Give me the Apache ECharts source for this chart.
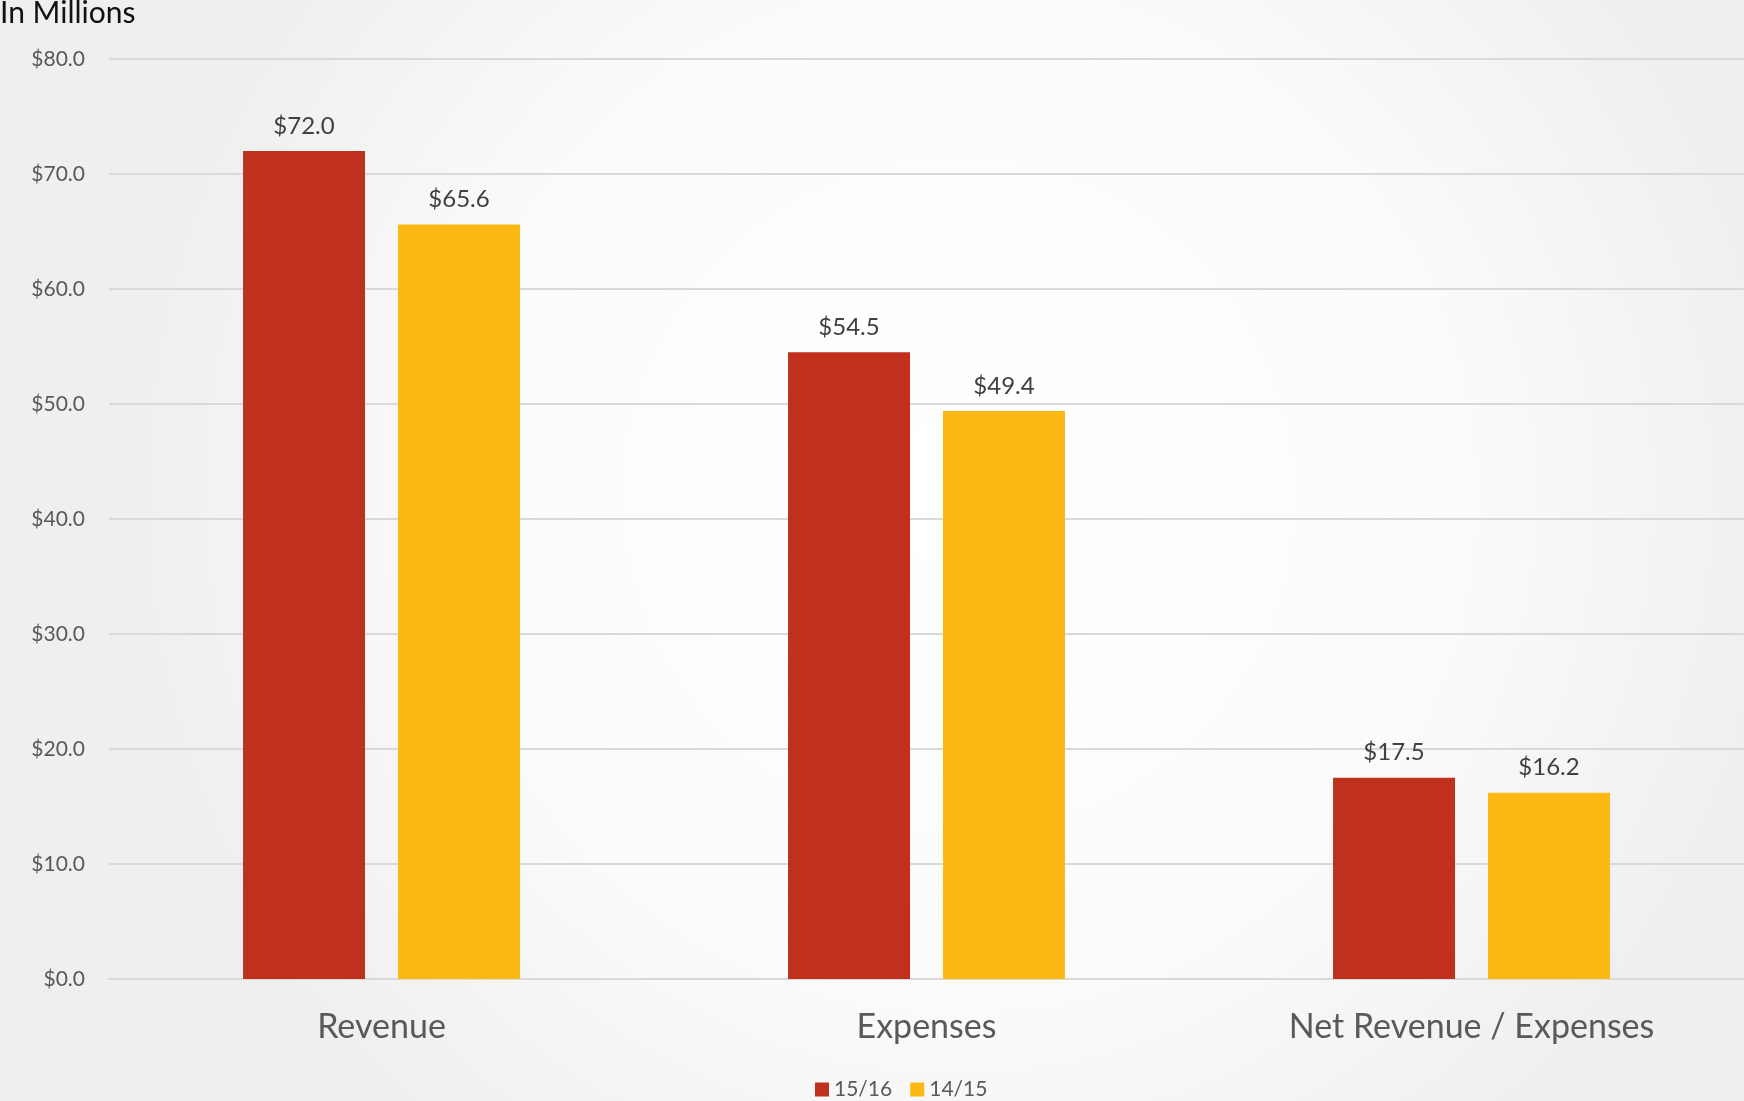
<!DOCTYPE html>
<html>
<head>
    <meta charset="UTF-8">
    <title>Revenue vs Expenses</title>
    <script src="https://cdn.jsdelivr.net/npm/echarts@6/dist/echarts.min.js"></script>
    <style>
        html, body { margin: 0; padding: 0; }
    </style>
</head>
<body>
<div id="bar" style="width:1744px; height:1101px;"></div>
<script>
    // data, in millions
    var categories = ['Revenue', 'Expenses', 'Net Revenue / Expenses'];
    var seriesNames = ['15/16', '14/15'];
    var values1516 = [72.0, 54.5, 17.5];
    var values1415 = [65.6, 49.4, 16.2];
    var yTicks = [0, 10, 20, 30, 40, 50, 60, 70, 80];

    var font = 'Lato, "Open Sans", sans-serif';
    var chart = echarts.init(document.getElementById('bar'), null, {renderer: 'canvas'});

    var labelStyle = {
        show: true,
        position: 'top',
        distance: 13,
        fontFamily: font,
        fontSize: 24,
        color: '#404040',
        formatter: function (p) { return '$' + p.value.toFixed(1); }
    };

    var option = {
        backgroundColor: {
            type: 'radial', x: 0.55, y: 0.45, r: 0.75,
            colorStops: [
                {offset: 0, color: '#ffffff'},
                {offset: 0.6, color: '#fbfbfb'},
                {offset: 1, color: '#efefef'}
            ]
        },
        animation: false,
        title: {
            text: 'In Millions',
            left: 0,
            top: -2,
            padding: 0,
            textStyle: {fontFamily: font, fontSize: 30, fontWeight: 'normal', color: '#111'}
        },
        legend: {
            data: seriesNames,
            left: 810,
            top: 1074,
            icon: 'rect',
            itemWidth: 14,
            itemHeight: 14,
            itemGap: 18,
            textStyle: {fontFamily: font, fontSize: 21, color: '#595959'}
        },
        grid: {left: 109, right: 0, top: 59, bottom: 122},
        xAxis: {
            type: 'category',
            data: categories,
            axisLine: {show: true, lineStyle: {color: '#d9d9d9', width: 2}},
            axisTick: {show: false},
            axisLabel: {fontFamily: font, fontSize: 34, color: '#595959', margin: 31}
        },
        yAxis: {
            type: 'value',
            min: yTicks[0],
            max: yTicks[yTicks.length - 1],
            interval: 10,
            axisLine: {show: false},
            axisTick: {show: false},
            splitLine: {lineStyle: {color: '#d9d9d9', width: 2}},
            axisLabel: {
                fontFamily: font, fontSize: 21, color: '#595959', margin: 24,
                formatter: function (v) { return '$' + v.toFixed(1); }
            }
        },
        series: [{
            name: seriesNames[0],
            type: 'bar',
            data: values1516,
            barWidth: 122,
            barGap: '27%',
            itemStyle: {color: '#BF311C'},
            label: labelStyle
        }, {
            name: seriesNames[1],
            type: 'bar',
            data: values1415,
            barWidth: 122,
            itemStyle: {color: '#FCB914'},
            label: labelStyle
        }]
    };
    chart.setOption(option);
</script>
</body>
</html>
